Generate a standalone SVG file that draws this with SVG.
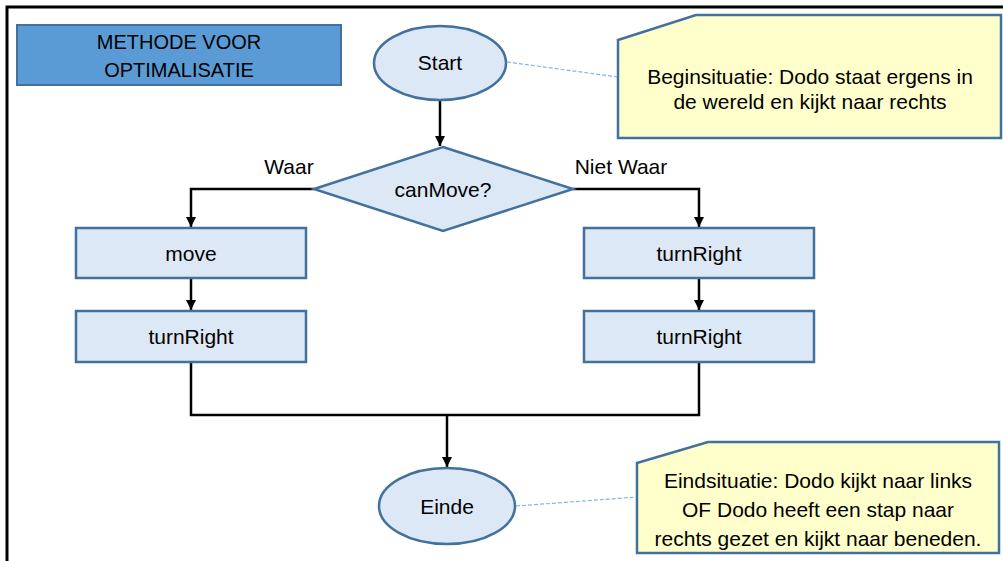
<svg xmlns="http://www.w3.org/2000/svg" width="1003" height="561" viewBox="0 0 1003 561">
<defs>
<marker id="arr" viewBox="0 0 10 10" refX="10" refY="5" markerWidth="10" markerHeight="10" markerUnits="userSpaceOnUse" orient="auto">
<path d="M0,0 L10,5 L0,10 z" fill="#000"/>
</marker>
</defs>
<style>
.shape{fill:#DCE8F5;stroke:#41719C;stroke-width:2.5}
.note{fill:#FFFFCC;stroke:#41719C;stroke-width:2.5}
.t{font-family:"Liberation Sans",Arial,sans-serif;font-size:21px;fill:#000;text-anchor:middle;dominant-baseline:central}
.tt{font-size:20px}
.c{fill:none;stroke:#000;stroke-width:2.5}
.d{fill:none;stroke:#8DB3E2;stroke-width:1.2;stroke-dasharray:4 2}
</style>
<rect x="0" y="0" width="1003" height="561" fill="#fff"/>
<rect x="7" y="7" width="1010" height="560" fill="none" stroke="#000" stroke-width="3"/>
<g id="title">
<rect x="17" y="25" width="324" height="60" fill="#5B9BD5" stroke="#41719C" stroke-width="2"/>
<text class="t tt" x="179" y="42">METHODE VOOR</text>
<text class="t tt" x="179" y="70">OPTIMALISATIE</text>
</g>
<g id="connectors">
<line class="c" x1="440" y1="100" x2="440" y2="146" marker-end="url(#arr)"/>
<polyline class="c" points="314,189 191,189 191,227" marker-end="url(#arr)"/>
<polyline class="c" points="573,189 699,189 699,227" marker-end="url(#arr)"/>
<line class="c" x1="191" y1="278" x2="191" y2="310" marker-end="url(#arr)"/>
<line class="c" x1="699" y1="278" x2="699" y2="310" marker-end="url(#arr)"/>
<polyline class="c" points="191,362 191,415 699,415 699,362"/>
<line class="c" x1="447" y1="415" x2="447" y2="467" marker-end="url(#arr)"/>
<line class="d" x1="507" y1="62" x2="618" y2="77"/>
<line class="d" x1="516" y1="506" x2="637" y2="497"/>
</g>
<g id="start">
<ellipse class="shape" cx="440" cy="63" rx="66" ry="37"/>
<text class="t" x="440" y="62">Start</text>
</g>
<g id="canMove">
<polygon class="shape" points="443,147 573,189 443,231 314,189"/>
<text class="t" x="443" y="189">canMove?</text>
</g>
<g id="labels">
<text class="t" x="289" y="166">Waar</text>
<text class="t" x="621" y="166">Niet Waar</text>
</g>
<g id="move">
<rect class="shape" x="76" y="228" width="230" height="50"/>
<text class="t" x="191" y="253">move</text>
</g>
<g id="turnRightL">
<rect class="shape" x="76" y="311" width="230" height="51"/>
<text class="t" x="191" y="336">turnRight</text>
</g>
<g id="turnRightR1">
<rect class="shape" x="584" y="228" width="230" height="50"/>
<text class="t" x="699" y="253">turnRight</text>
</g>
<g id="turnRightR2">
<rect class="shape" x="584" y="311" width="230" height="51"/>
<text class="t" x="699" y="336">turnRight</text>
</g>
<g id="einde">
<ellipse class="shape" cx="447" cy="506" rx="68" ry="38"/>
<text class="t" x="447" y="506">Einde</text>
</g>
<g id="noteStart">
<polygon class="note" points="618,40 696,15 1001,15 1001,138 618,138"/>
<text class="t" x="810" y="76">Beginsituatie: Dodo staat ergens in</text>
<text class="t" x="810" y="101">de wereld en kijkt naar rechts</text>
</g>
<g id="noteEnd">
<polygon class="note" points="637,463 708,442 999,442 999,553 637,553"/>
<text class="t" x="818" y="480">Eindsituatie: Dodo kijkt naar links</text>
<text class="t" x="818" y="509">OF Dodo heeft een stap naar</text>
<text class="t" x="818" y="538">rechts gezet en kijkt naar beneden.</text>
</g>
</svg>
